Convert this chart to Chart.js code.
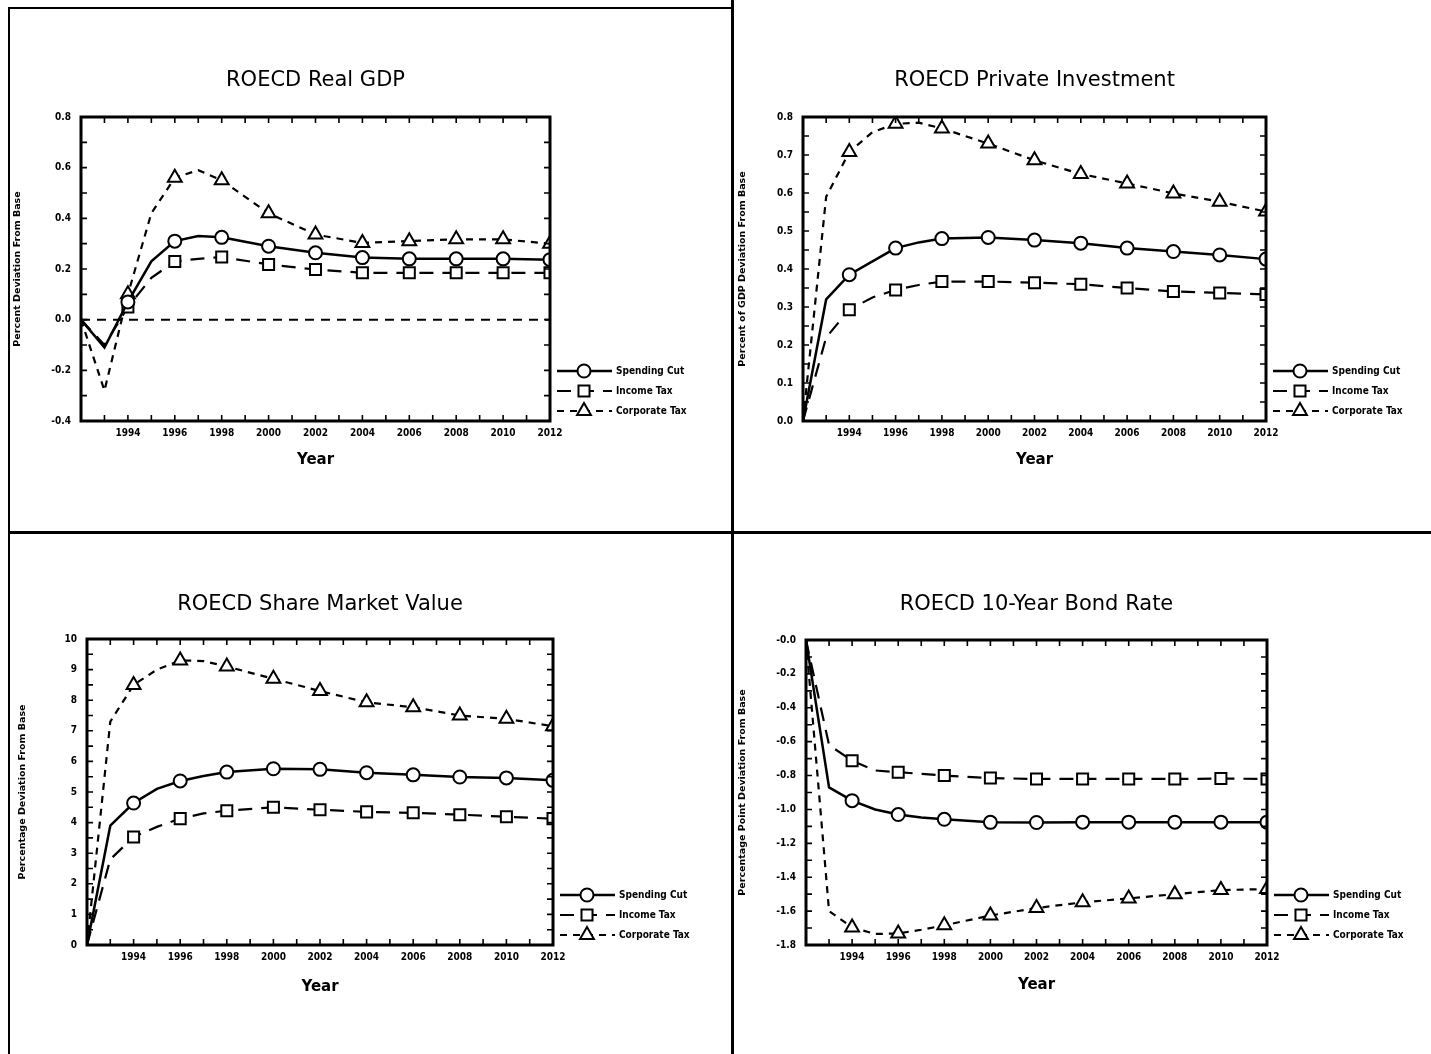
<!DOCTYPE html>
<html>
<head>
<meta charset="utf-8">
<title>ROECD fiscal scenarios</title>
<script src="https://cdn.jsdelivr.net/npm/chart.js@4.4.1/dist/chart.umd.min.js"></script>
<style>
  body { margin: 0; background: #fff; }
  #page { position: relative; width: 1431px; height: 1054px; overflow: hidden; background: #fff; }
  canvas { position: absolute; }
  .rule { position: absolute; background: #000; }
</style>
</head>
<body>
<div id="page">
  <canvas id="gdp" width="733" height="532" style="left:0;top:0"></canvas>
  <canvas id="inv" width="697" height="532" style="left:734px;top:0"></canvas>
  <canvas id="share" width="733" height="521" style="left:0;top:533px"></canvas>
  <canvas id="bond" width="697" height="521" style="left:734px;top:533px"></canvas>

  <div class="rule" style="left:9px;top:7px;width:724px;height:2px"></div>
  <div class="rule" style="left:8px;top:7px;width:2px;height:1047px"></div>
  <div class="rule" style="left:731px;top:0;width:3px;height:1054px"></div>
  <div class="rule" style="left:9px;top:531px;width:1422px;height:3px"></div>
</div>

<script>
// years with a reading; markers only on the even years from 1994
const years = [1992, 1993, 1994, 1995, 1996, 1997, 1998, 2000, 2002, 2004, 2006, 2008, 2010, 2012];
const xTickYears = [1994, 1996, 1998, 2000, 2002, 2004, 2006, 2008, 2010, 2012];
const seriesNames = ['Spending Cut', 'Income Tax', 'Corporate Tax'];

// ROECD Real GDP
const gdpSpending = [0, -0.11, 0.07, 0.23, 0.31, 0.33, 0.325, 0.29, 0.264, 0.245, 0.24, 0.24, 0.24, 0.237];
const gdpIncome = [0, -0.10, 0.05, 0.165, 0.23, 0.24, 0.247, 0.218, 0.198, 0.185, 0.185, 0.185, 0.185, 0.185];
const gdpCorporate = [0, -0.28, 0.10, 0.42, 0.56, 0.59, 0.55, 0.42, 0.336, 0.303, 0.31, 0.317, 0.317, 0.30];
const baseYears = [1992, 2012];
const gdpBase = [0, 0];
const gdpYTicks = [-0.4, -0.2, 0, 0.2, 0.4, 0.6, 0.8];
const gdpYLabels = ['-0.4', '-0.2', '0.0', '0.2', '0.4', '0.6', '0.8'];

// ROECD Private Investment
const invSpending = [0, 0.32, 0.385, 0.42, 0.455, 0.47, 0.48, 0.483, 0.476, 0.468, 0.455, 0.446, 0.437, 0.426];
const invIncome = [0, 0.22, 0.293, 0.325, 0.345, 0.358, 0.367, 0.367, 0.364, 0.36, 0.35, 0.341, 0.337, 0.333];
const invCorporate = [0, 0.59, 0.708, 0.76, 0.782, 0.785, 0.77, 0.73, 0.686, 0.65, 0.625, 0.599, 0.577, 0.551];
const invYTicks = [0, 0.1, 0.2, 0.3, 0.4, 0.5, 0.6, 0.7, 0.8];
const invYLabels = ['0.0', '0.1', '0.2', '0.3', '0.4', '0.5', '0.6', '0.7', '0.8'];

// ROECD Share Market Value
const shareSpending = [0, 3.9, 4.64, 5.1, 5.36, 5.52, 5.65, 5.76, 5.74, 5.63, 5.56, 5.49, 5.46, 5.38];
const shareIncome = [0, 2.8, 3.53, 3.86, 4.13, 4.3, 4.39, 4.5, 4.42, 4.35, 4.32, 4.26, 4.19, 4.13];
const shareCorporate = [0, 7.3, 8.5, 9.0, 9.3, 9.28, 9.1, 8.7, 8.3, 7.93, 7.77, 7.5, 7.39, 7.15];
const shareYTicks = [0, 1, 2, 3, 4, 5, 6, 7, 8, 9, 10];
const shareYLabels = ['0', '1', '2', '3', '4', '5', '6', '7', '8', '9', '10'];

// ROECD 10-Year Bond Rate
const bondSpending = [0, -0.87, -0.948, -1.0, -1.03, -1.047, -1.058, -1.076, -1.077, -1.075, -1.075, -1.075, -1.075, -1.075];
const bondIncome = [0, -0.62, -0.712, -0.77, -0.78, -0.79, -0.8, -0.815, -0.82, -0.82, -0.82, -0.82, -0.818, -0.82];
const bondCorporate = [0, -1.6, -1.696, -1.735, -1.732, -1.71, -1.684, -1.626, -1.582, -1.548, -1.525, -1.5, -1.476, -1.47];
const bondYTicks = [-1.8, -1.6, -1.4, -1.2, -1.0, -0.8, -0.6, -0.4, -0.2, 0];
const bondYLabels = ['-1.8', '-1.6', '-1.4', '-1.2', '-1.0', '-0.8', '-0.6', '-0.4', '-0.2', '-0.0'];

const tickFont = { family: "'DejaVu Sans Condensed', 'DejaVu Sans', sans-serif", size: 10, weight: 'bold' };
const labelFont = "bold 10px 'DejaVu Sans Condensed', 'DejaVu Sans', sans-serif";

// line/marker look of the three scenarios
const looks = [
  { dash: [], width: 2.5, point: 'circle', r: 6.5 },
  { dash: [14, 9], width: 2.2, point: 'rect', r: 7.8 },
  { dash: [7, 6], width: 2.2, point: 'triangle', r: 8 }
];

function drawMarker(ctx, style, x, y, r) {
  ctx.beginPath();
  if (style === 'circle') {
    ctx.arc(x, y, r, 0, Math.PI * 2);
  } else if (style === 'rect') {
    const s = r * Math.SQRT1_2;
    ctx.rect(x - s, y - s, 2 * s, 2 * s);
  } else {
    ctx.moveTo(x, y - r);
    ctx.lineTo(x + r * 0.866, y + r * 0.5);
    ctx.lineTo(x - r * 0.866, y + r * 0.5);
    ctx.closePath();
  }
  ctx.fillStyle = '#fff';
  ctx.fill();
  ctx.stroke();
}

// box, inward ticks and the legend to the right of the plot
const framePlugin = {
  id: 'frame',
  afterDraw(chart, args, opts) {
    const { ctx, chartArea: a, scales: { x, y } } = chart;
    ctx.save();
    ctx.strokeStyle = '#000';
    ctx.lineWidth = 1.6;
    ctx.beginPath();
    for (let v = x.min; v <= x.max; v++) {
      const px = x.getPixelForValue(v);
      ctx.moveTo(px, a.bottom); ctx.lineTo(px, a.bottom - 6);
      ctx.moveTo(px, a.top); ctx.lineTo(px, a.top + 6);
    }
    const n = Math.round((y.max - y.min) / opts.minorY);
    for (let i = 0; i <= n; i++) {
      const py = y.getPixelForValue(y.min + i * opts.minorY);
      ctx.moveTo(a.left, py); ctx.lineTo(a.left + 6, py);
      ctx.moveTo(a.right, py); ctx.lineTo(a.right - 6, py);
    }
    ctx.stroke();
    ctx.lineWidth = 3;
    ctx.strokeRect(a.left, a.top, a.right - a.left, a.bottom - a.top);

    // legend
    ctx.font = labelFont;
    ctx.fillStyle = '#000';
    ctx.textBaseline = 'middle';
    let k = 0;
    chart.data.datasets.forEach(ds => {
      if (!ds.label) return;
      const look = looks[k];
      const ly = a.bottom + opts.legendTop + k * 20;
      ctx.setLineDash(look.dash);
      ctx.lineWidth = look.width;
      ctx.beginPath();
      ctx.moveTo(a.right + 7, ly); ctx.lineTo(a.right + 62, ly);
      ctx.stroke();
      ctx.setLineDash([]);
      ctx.lineWidth = 2;
      drawMarker(ctx, look.point, a.right + 34, ly, look.r);
      ctx.fillStyle = '#000';
      ctx.fillText(ds.label, a.right + 66, ly);
      k++;
    });
    ctx.restore();
  }
};

function makeChart(p) {
  const isMarked = c => {
    const yr = c.raw && c.raw.x;
    return yr >= 1994 && yr % 2 === 0;
  };
  const datasets = p.series.map((vals, i) => ({
    label: seriesNames[i],
    data: years.map((yr, j) => ({ x: yr, y: vals[j] })),
    borderColor: '#000',
    borderWidth: looks[i].width,
    borderDash: looks[i].dash,
    pointStyle: looks[i].point,
    pointRadius: c => (isMarked(c) ? looks[i].r : 0),
    pointBorderWidth: 2,
    pointBorderColor: '#000',
    pointBackgroundColor: '#fff',
    tension: 0,
    clip: 1
  }));
  if (p.base) {
    datasets.unshift({
      label: '',
      data: baseYears.map((yr, j) => ({ x: yr, y: p.base[j] })),
      borderColor: '#000',
      borderWidth: 2,
      borderDash: [9, 7],
      pointRadius: 0,
      clip: 1
    });
  }
  const b = p.box;
  const xH = p.yearY - b.b + 12;
  return new Chart(document.getElementById(p.id), {
    type: 'line',
    data: { datasets },
    plugins: [framePlugin],
    options: {
      responsive: false,
      animation: false,
      events: [],
      layout: {
        padding: { left: 0, top: 0, right: p.w - b.r, bottom: p.h - (b.b + xH) }
      },
      plugins: {
        legend: { display: false },
        tooltip: { enabled: false },
        title: {
          display: true,
          text: p.title,
          color: '#000',
          fullSize: false,
          font: { family: "'DejaVu Sans', sans-serif", size: 21, weight: 'normal', lineHeight: 1 },
          padding: { top: p.titleY - 10.5, bottom: b.t - p.titleY - 10.5 }
        },
        frame: { minorY: p.minorY, legendTop: p.legendTop }
      },
      scales: {
        x: {
          type: 'linear',
          min: 1992,
          max: 2012,
          grid: { display: false, drawTicks: false },
          border: { display: false },
          afterBuildTicks: s => { s.ticks = xTickYears.map(v => ({ value: v })); },
          afterFit: s => { s.height = xH; },
          ticks: {
            color: '#000',
            font: tickFont,
            maxRotation: 0,
            autoSkip: false,
            padding: p.xLabelY - b.b - 6,
            callback: (v, i) => String(xTickYears[i])
          },
          title: {
            display: true,
            text: 'Year',
            color: '#000',
            font: { family: "'DejaVu Sans', sans-serif", size: 15, weight: 'bold', lineHeight: 1 },
            padding: { top: 0, bottom: 4.5 }
          }
        },
        y: {
          min: p.yTicks[0],
          max: p.yTicks[p.yTicks.length - 1],
          grid: { display: false, drawTicks: false },
          border: { display: false },
          afterBuildTicks: s => { s.ticks = p.yTicks.map(v => ({ value: v })); },
          afterFit: s => { s.width = b.l; },
          ticks: {
            color: '#000',
            font: tickFont,
            padding: 10,
            callback: (v, i) => p.yLabels[i]
          },
          title: {
            display: true,
            text: p.yTitle,
            color: '#000',
            font: { family: "'DejaVu Sans', sans-serif", size: 9.5, weight: 'bold', lineHeight: 1 },
            padding: { top: p.yTitleX - 4.75, bottom: 0 }
          }
        }
      }
    }
  });
}

makeChart({
  id: 'gdp', w: 733, h: 532,
  box: { l: 81, t: 117, r: 550, b: 421 },
  titleY: 81, yTitleX: 18, xLabelY: 433, yearY: 460, legendTop: -50,
  title: 'ROECD Real GDP', yTitle: 'Percent Deviation From Base',
  yTicks: gdpYTicks, yLabels: gdpYLabels, minorY: 0.1,
  series: [gdpSpending, gdpIncome, gdpCorporate], base: gdpBase
});

makeChart({
  id: 'inv', w: 697, h: 532,
  box: { l: 69, t: 117, r: 532, b: 421 },
  titleY: 81, yTitleX: 9, xLabelY: 433, yearY: 460, legendTop: -50,
  title: 'ROECD Private Investment', yTitle: 'Percent of GDP Deviation From Base',
  yTicks: invYTicks, yLabels: invYLabels, minorY: 0.05,
  series: [invSpending, invIncome, invCorporate]
});

makeChart({
  id: 'share', w: 733, h: 521,
  box: { l: 87, t: 106, r: 553, b: 412 },
  titleY: 72, yTitleX: 23, xLabelY: 424, yearY: 454, legendTop: -50,
  title: 'ROECD Share Market Value', yTitle: 'Percentage Deviation From Base',
  yTicks: shareYTicks, yLabels: shareYLabels, minorY: 0.5,
  series: [shareSpending, shareIncome, shareCorporate]
});

makeChart({
  id: 'bond', w: 697, h: 521,
  box: { l: 72, t: 107, r: 533, b: 412 },
  titleY: 72, yTitleX: 9, xLabelY: 424, yearY: 452, legendTop: -50,
  title: 'ROECD 10-Year Bond Rate', yTitle: 'Percentage Point Deviation From Base',
  yTicks: bondYTicks, yLabels: bondYLabels, minorY: 0.1,
  series: [bondSpending, bondIncome, bondCorporate]
});
</script>
</body>
</html>
